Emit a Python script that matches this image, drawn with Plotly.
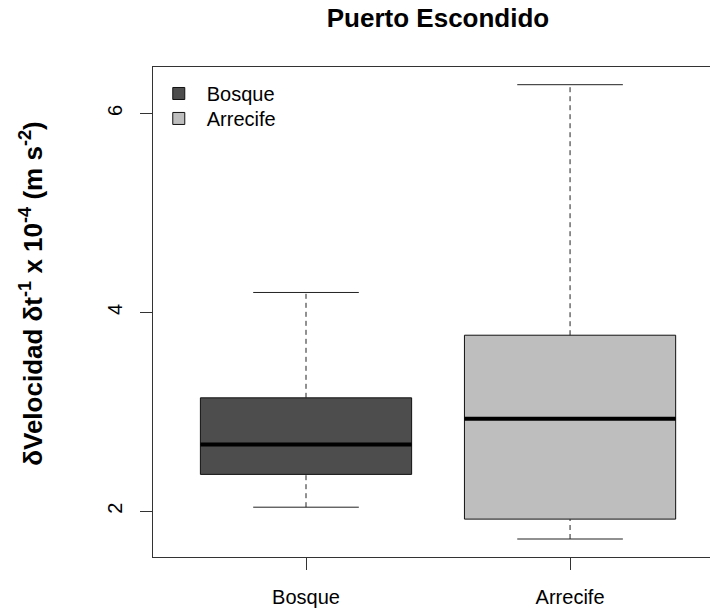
import plotly.graph_objects as go

# ---- data ----
categories = ["Bosque", "Arrecife"]
positions = [1, 2]
lower_whisker = [2.04, 1.72]
q1_values = [2.37, 1.92]
median_values = [2.67, 2.93]
q3_values = [3.14, 3.77]
upper_whisker = [4.20, 6.29]
fill_colors = ["#4D4D4D", "#BEBEBE"]
y_ticks = [2, 4, 6]

BOX_W = 0.8
CAP_HALF = 0.2
FONT = "Liberation Sans, Arial, sans-serif"
PLOT_H = 611 - 67 - 53.5
PLOT_W = 710 - 153

fig = go.Figure()

for i, cat in enumerate(categories):
    p = positions[i]
    # dashed whiskers
    fig.add_trace(go.Scatter(
        x=[p, p, None, p, p],
        y=[lower_whisker[i], q1_values[i], None, q3_values[i], upper_whisker[i]],
        mode="lines", line=dict(color="#222222", width=1, dash="5px,4px"),
        showlegend=False, hoverinfo="skip"))
    # whisker caps
    fig.add_trace(go.Scatter(
        x=[p - CAP_HALF, p + CAP_HALF, None, p - CAP_HALF, p + CAP_HALF],
        y=[lower_whisker[i], lower_whisker[i], None, upper_whisker[i], upper_whisker[i]],
        mode="lines", line=dict(color="#222222", width=1),
        showlegend=False, hoverinfo="skip"))

legend_ids = ["legend", "legend2"]
for i, cat in enumerate(categories):
    p = positions[i]
    fig.add_trace(go.Box(
        name=cat, x=[p], q1=[q1_values[i]], median=[median_values[i]],
        q3=[q3_values[i]], lowerfence=[q1_values[i]], upperfence=[q3_values[i]],
        width=BOX_W, whiskerwidth=0, fillcolor=fill_colors[i],
        line=dict(color="#111111", width=1), boxpoints=False, hoverinfo="skip",
        legend=legend_ids[i]))

for i, cat in enumerate(categories):
    p = positions[i]
    # thick median line
    fig.add_trace(go.Scatter(
        x=[p - BOX_W / 2, p + BOX_W / 2], y=[median_values[i]] * 2,
        mode="lines", line=dict(color="black", width=4),
        showlegend=False, hoverinfo="skip"))

leg_common = dict(x=-0.004, xanchor="left", yanchor="top",
                  bgcolor="rgba(0,0,0,0)", font=dict(size=20, family=FONT),
                  itemwidth=46)
legend_top_px = 74  # distance from figure top

fig.update_layout(
    template="none",
    width=710, height=611,
    margin=dict(l=153, r=0, t=67, b=53.5, autoexpand=False),
    paper_bgcolor="white", plot_bgcolor="white",
    font=dict(family=FONT, size=20, color="black"),
    showlegend=True,
    legend=dict(y=1 - (legend_top_px - 67) / PLOT_H, **leg_common),
    legend2=dict(y=1 - (legend_top_px + 25 - 67) / PLOT_H, **leg_common),
    title=dict(text="<b>Puerto Escondido</b>", x=438 / 710, xanchor="center",
               y=1 - 18 / 611, yanchor="middle", automargin=False,
               font=dict(size=26, family=FONT, color="black")),
)

fig.update_xaxes(
    range=[0.4205, 2.530], tickvals=positions, ticktext=categories,
    showline=True, linecolor="#333333", linewidth=1, mirror=True,
    ticks="outside", ticklen=12, tickcolor="#333333", tickwidth=1,
    showgrid=False, zeroline=False, ticklabelstandoff=10, automargin=False,
    tickfont=dict(size=20, color="black"))

fig.update_yaxes(
    range=[1.539, 6.468], tickvals=y_ticks, ticktext=[str(t) for t in y_ticks],
    showline=True, linecolor="#333333", linewidth=1, mirror=False,
    ticks="outside", ticklen=12, tickcolor="#333333", tickwidth=1, tickangle=-90,
    showgrid=False, zeroline=False, ticklabelstandoff=10, automargin=False,
    tickfont=dict(size=20, color="black"))

fig.add_annotation(
    text="<b>δVelocidad δt<sup>-1</sup> x 10<sup>-4</sup> (m s<sup>-2</sup>)</b>",
    xref="paper", yref="paper", x=(32 - 153) / PLOT_W, y=(557.5 - 294) / PLOT_H,
    xanchor="center", yanchor="middle", textangle=-90, showarrow=False,
    font=dict(size=26, family=FONT, color="black"))

fig.write_html("out.html", config={"displayModeBar": False},
               post_script="document.body.style.margin='0';")
